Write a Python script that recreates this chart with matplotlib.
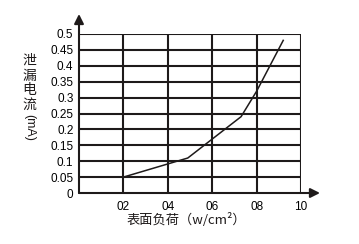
import numpy as np
import matplotlib.pyplot as plt

# data
load_w = [2.0, 4.9, 7.3, 8.0, 9.2]
leak_ma = [0.05, 0.11, 0.24, 0.32, 0.48]
x_ticks = [2, 4, 6, 8, 10]
x_tick_labels = ['02', '04', '06', '08', '10']
y_ticks = [0, 0.05, 0.1, 0.15, 0.2, 0.25, 0.3, 0.35, 0.4, 0.45, 0.5]
y_tick_labels = ['0', '0.05', '0.1', '0.15', '0.2', '0.25', '0.3', '0.35', '0.4', '0.45', '0.5']
ylabel_chars = ['泄', '漏', '电', '流']

plt.rcParams['font.family'] = ['Liberation Sans', 'Noto Sans CJK SC', 'DejaVu Sans']
ink = '#1e1a1a'
W, H = 359, 244

fig = plt.figure(figsize=(W / 100, H / 100), dpi=100)
ax = fig.add_axes([79 / W, 1 - 193 / H, (301 - 79) / W, (193 - 34) / H])
ax.set_xlim(0, 10)
ax.set_ylim(0, 0.5)

# grid
for yv in y_ticks[1:]:
    ax.axhline(yv, color=ink, lw=1.5, zorder=1)
for xv in x_ticks:
    ax.axvline(xv, color=ink, lw=1.5, zorder=1)

ax.plot(load_w, leak_ma, color=ink, lw=1.1, zorder=3)

for s in ax.spines.values():
    s.set_visible(False)
ax.set_xticks(x_ticks)
ax.set_xticklabels(x_tick_labels, fontsize=8.5)
ax.set_yticks(y_ticks)
ax.set_yticklabels(y_tick_labels, fontsize=8.5)
ax.tick_params(length=0, pad=4)
ax.tick_params(axis='x', pad=6)

# axis arrows
fx = 79 / W
fy = 1 - 193 / H
ax.annotate('', xy=(fx, 1 - 14 / H), xytext=(fx, fy), xycoords='figure fraction',
            textcoords='figure fraction',
            arrowprops=dict(arrowstyle='-|>', lw=1.5, color=ink, mutation_scale=14,
                            shrinkA=0, shrinkB=0))
ax.annotate('', xy=(320 / W, fy), xytext=(fx, fy), xycoords='figure fraction',
            textcoords='figure fraction',
            arrowprops=dict(arrowstyle='-|>', lw=1.5, color=ink, mutation_scale=14,
                            shrinkA=0, shrinkB=0))

# labels
fig.text(186 / W, 1 - 220 / H, '表面负荷（w/cm²）', fontsize=9.5,
         family=['Noto Sans CJK SC', 'DejaVu Sans'],
         ha='center', va='center', color=ink)
for i, ch in enumerate(ylabel_chars):
    fig.text(29 / W, 1 - (61 + 14.5 * i) / H, ch, fontsize=10,
             family=['Noto Sans CJK SC', 'DejaVu Sans'],
             ha='center', va='center', color=ink)
fig.text(29 / W, 1 - 127 / H, '(mA)', fontsize=9, rotation=-90,
         ha='center', va='center', color=ink)

fig.savefig('out.png', dpi=100)
